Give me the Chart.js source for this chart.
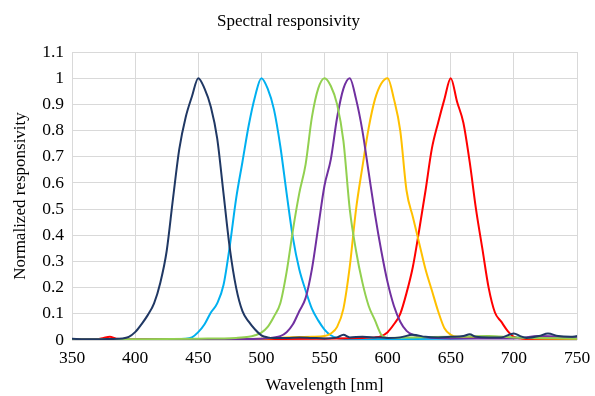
<!DOCTYPE html>
<html lang="en">
<head>
<meta charset="UTF-8">
<title>Spectral responsivity</title>
<script src="https://cdn.jsdelivr.net/npm/chart.js"></script>
<style>
    html, body { margin: 0; padding: 0; background: #fff; }
    #wrap { width: 595px; height: 396px; }
</style>
</head>
<body>
<div id="wrap"><canvas id="spectrum"></canvas></div>
<script>
// axis ticks
const xTicks = [350, 400, 450, 500, 550, 600, 650, 700, 750];
const yTicks = [0, 0.1, 0.2, 0.3, 0.4, 0.5, 0.6, 0.7, 0.8, 0.9, 1, 1.1];

// dark blue channel
const navyNm  = [350, 360, 370, 380, 390, 395, 400, 405, 410, 415, 420, 425, 430, 435, 440, 445, 450, 455, 460, 465, 470, 475, 480, 485, 490, 495, 500, 505, 510, 520, 530, 540, 550, 560, 565, 570, 580, 590, 600, 610, 620, 630, 640, 650, 660, 665, 670, 680, 690, 700, 705, 710, 720, 727, 735, 745, 750];
const navyVal = [0.005, 0.003, 0.003, 0.004, 0.006, 0.012, 0.03, 0.06, 0.095, 0.14, 0.22, 0.34, 0.54, 0.73, 0.85, 0.93, 1.0, 0.96, 0.89, 0.77, 0.56, 0.35, 0.2, 0.11, 0.07, 0.04, 0.018, 0.01, 0.008, 0.008, 0.01, 0.008, 0.006, 0.01, 0.02, 0.01, 0.012, 0.01, 0.008, 0.01, 0.02, 0.012, 0.01, 0.012, 0.015, 0.022, 0.012, 0.01, 0.01, 0.025, 0.015, 0.008, 0.015, 0.025, 0.015, 0.012, 0.015];

// cyan channel
const cyanNm  = [350, 400, 440, 445, 450, 455, 460, 465, 470, 475, 480, 485, 490, 495, 500, 505, 510, 515, 520, 525, 530, 535, 540, 545, 550, 555, 560, 570, 600, 650, 700, 750];
const cyanVal = [0.003, 0.002, 0.005, 0.01, 0.03, 0.06, 0.105, 0.14, 0.21, 0.36, 0.54, 0.68, 0.82, 0.93, 1.0, 0.96, 0.88, 0.74, 0.56, 0.39, 0.27, 0.19, 0.12, 0.075, 0.04, 0.018, 0.008, 0.004, 0.003, 0.005, 0.01, 0.008];

// green channel
const greenNm  = [350, 400, 450, 480, 490, 495, 500, 505, 510, 515, 520, 525, 530, 535, 540, 545, 550, 555, 560, 565, 570, 575, 580, 585, 590, 595, 600, 620, 650, 680, 700, 750];
const greenVal = [0.002, 0.003, 0.005, 0.008, 0.012, 0.018, 0.028, 0.05, 0.09, 0.14, 0.26, 0.42, 0.56, 0.67, 0.85, 0.96, 1.0, 0.97, 0.9, 0.76, 0.5, 0.34, 0.22, 0.13, 0.075, 0.02, 0.008, 0.01, 0.012, 0.015, 0.01, 0.005];

// purple channel
const purpleNm  = [350, 450, 500, 510, 515, 520, 525, 530, 535, 540, 545, 550, 555, 560, 565, 570, 575, 580, 585, 590, 595, 600, 605, 610, 615, 620, 630, 650, 700, 720, 750];
const purpleVal = [0.002, 0.003, 0.005, 0.01, 0.015, 0.03, 0.06, 0.11, 0.16, 0.27, 0.43, 0.59, 0.69, 0.85, 0.96, 1.0, 0.92, 0.8, 0.64, 0.48, 0.34, 0.22, 0.13, 0.07, 0.035, 0.02, 0.01, 0.006, 0.006, 0.015, 0.008];

// yellow channel
const yellowNm  = [350, 450, 500, 520, 540, 550, 555, 560, 565, 570, 575, 580, 585, 590, 595, 600, 605, 610, 615, 620, 625, 630, 635, 640, 645, 650, 655, 670, 700, 750];
const yellowVal = [0.002, 0.003, 0.005, 0.01, 0.012, 0.015, 0.025, 0.05, 0.12, 0.28, 0.5, 0.66, 0.81, 0.92, 0.98, 1.0, 0.92, 0.8, 0.57, 0.47, 0.37, 0.27, 0.19, 0.11, 0.045, 0.02, 0.012, 0.01, 0.008, 0.005];

// red channel
const redNm  = [350, 370, 375, 380, 385, 400, 450, 500, 550, 580, 590, 595, 600, 605, 610, 615, 620, 625, 630, 635, 640, 645, 650, 655, 660, 665, 670, 675, 680, 685, 690, 695, 700, 710, 750];
const redVal = [0.002, 0.003, 0.008, 0.012, 0.005, 0.003, 0.003, 0.004, 0.005, 0.008, 0.01, 0.015, 0.03, 0.06, 0.1, 0.18, 0.28, 0.42, 0.57, 0.73, 0.83, 0.92, 1.0, 0.91, 0.83, 0.68, 0.5, 0.35, 0.2, 0.105, 0.07, 0.035, 0.012, 0.004, 0.003];

const seriesList = [
    { nm: navyNm,   val: navyVal,   color: '#203864' },
    { nm: greenNm,  val: greenVal,  color: '#92D050' },
    { nm: purpleNm, val: purpleVal, color: '#7030A0' },
    { nm: yellowNm, val: yellowVal, color: '#FFC000' },
    { nm: redNm,    val: redVal,    color: '#FF0000' },
    { nm: cyanNm,   val: cyanVal,   color: '#00B0F0' }
];

const serif = "'Liberation Serif', 'DejaVu Serif', serif";

const datasets = seriesList.map(s => ({
    data: s.nm.map((x, i) => ({ x: x, y: s.val[i] })),
    borderColor: s.color,
    backgroundColor: s.color,
    borderWidth: 2,
    pointRadius: 0,
    fill: false,
    cubicInterpolationMode: 'monotone'
}));

new Chart(document.getElementById('spectrum'), {
    type: 'line',
    data: { datasets: datasets },
    options: {
        responsive: true,
        maintainAspectRatio: false,
        animation: false,
        layout: { padding: { right: 18 } },
        plugins: {
            legend: { display: false },
            tooltip: { enabled: false },
            title: {
                display: true,
                text: 'Spectral responsivity',
                color: '#000',
                font: { family: serif, size: 17, weight: 'normal' },
                padding: { top: 11, bottom: 20.6 }
            }
        },
        scales: {
            x: {
                type: 'linear',
                min: 350,
                max: 750,
                afterBuildTicks: axis => { axis.ticks = xTicks.map(v => ({ value: v })); },
                afterFit: axis => {
                    axis.height = 56;
                    axis.paddingLeft = 0;
                    axis.paddingRight = 0;
                },
                grid: { color: '#d9d9d9', lineWidth: 1, drawTicks: false },
                border: { display: false },
                ticks: { color: '#000', font: { family: serif, size: 17.5 }, padding: 8, maxRotation: 0 },
                title: {
                    display: true,
                    text: 'Wavelength [nm]',
                    color: '#000',
                    font: { family: serif, size: 17 },
                    padding: { top: 0, bottom: 0 }
                }
            },
            y: {
                min: 0,
                max: 1.1,
                afterBuildTicks: axis => { axis.ticks = yTicks.map(v => ({ value: v })); },
                afterFit: axis => { axis.width = 72; },
                grid: { color: '#d9d9d9', lineWidth: 1, drawTicks: false },
                border: { display: false },
                ticks: {
                    color: '#000',
                    font: { family: serif, size: 17.5 },
                    padding: 8,
                    callback: v => String(Math.round(v * 10) / 10)
                },
                title: {
                    display: true,
                    text: 'Normalized responsivity',
                    color: '#000',
                    font: { family: serif, size: 17 },
                    padding: { top: 10, bottom: 0 }
                }
            }
        }
    }
});
</script>
</body>
</html>
